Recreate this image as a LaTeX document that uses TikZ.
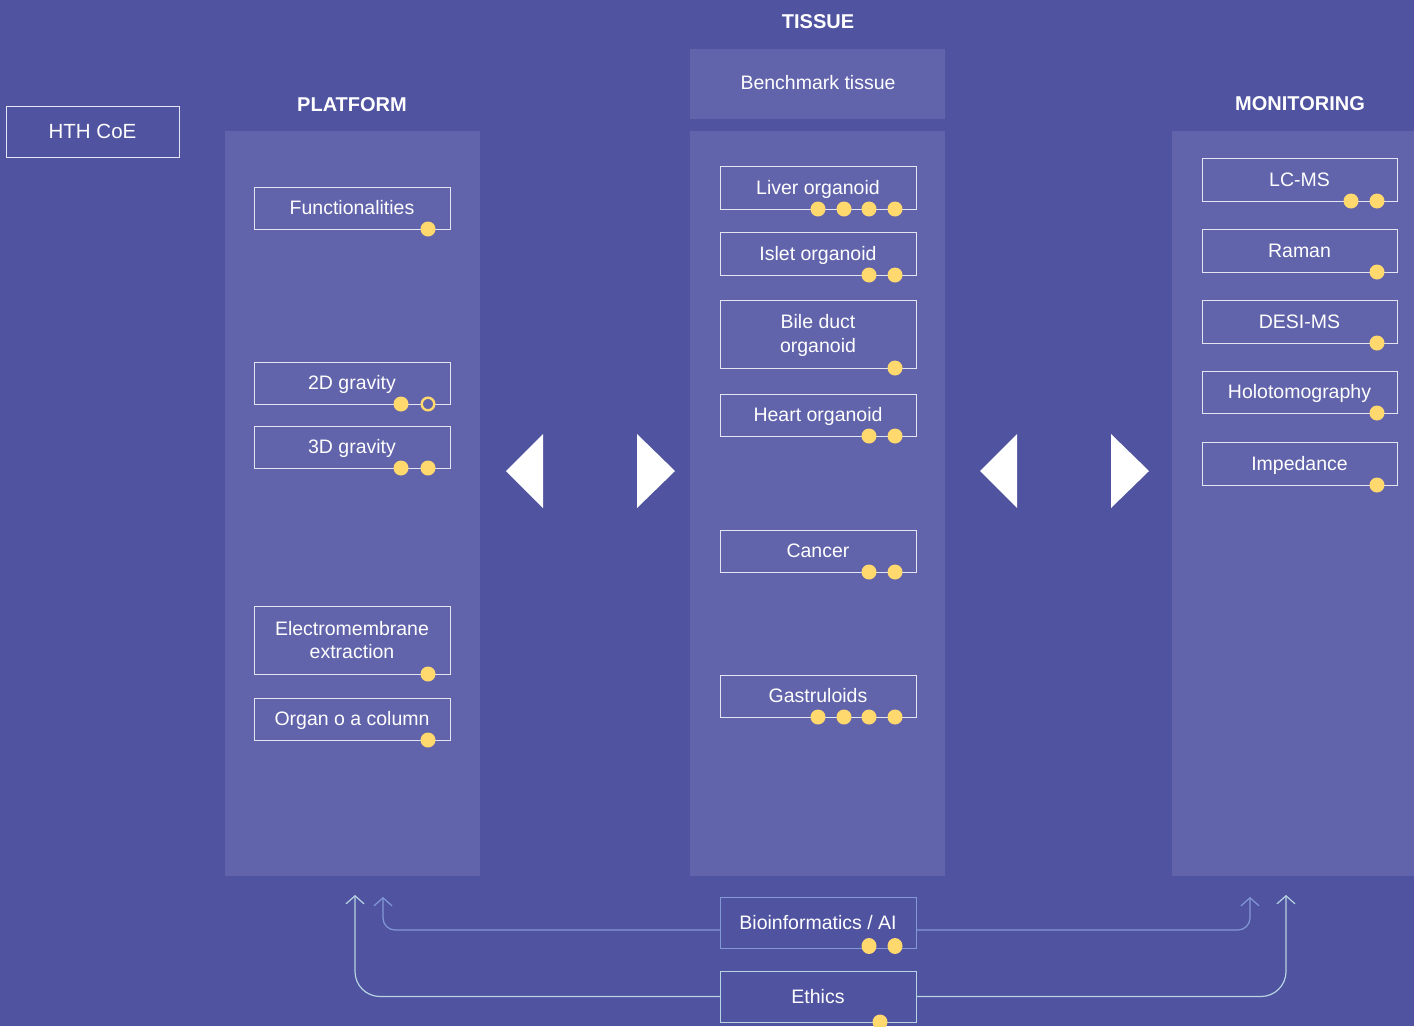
\documentclass[tikz,border=0pt]{standalone}
\usepackage{fontspec}
\setmainfont{Liberation Sans}
\usetikzlibrary{arrows.meta}
\definecolor{bgc}{HTML}{5053A0}
\definecolor{panelc}{HTML}{6163AB}
\definecolor{dotc}{HTML}{FFD86E}
\definecolor{boxline}{HTML}{E4E4F2}
\definecolor{bioc}{HTML}{8299D6}
\definecolor{ethc}{HTML}{B6D4E2}
\tikzset{
  panel/.style={fill=panelc, draw=none, inner sep=0pt, outer sep=0pt},
  itembox/.style={draw=boxline, line width=1pt, inner sep=0pt, outer sep=0pt,
    minimum width=196pt, minimum height=42pt, text=white, align=center,
    text height=14pt, text depth=1pt,
    font=\fontsize{19.5}{24}\selectfont},
  header/.style={text=white, font=\fontsize{20}{24}\selectfont\bfseries},
  filldot/.style={fill=dotc},
  hollowdot/.style={fill=panelc, draw=dotc, line width=2.4pt},
  tri/.style={fill=white},
  bioline/.style={draw=bioc, line width=1.2pt, rounded corners=12pt,
    -{Straight Barb[length=8pt,width=18pt,line width=1.2pt]}},
  ethline/.style={draw=ethc, line width=1.2pt, rounded corners=25pt,
    -{Straight Barb[length=8pt,width=18pt,line width=1.2pt]}},
}
\newcommand{\ydots}[2]{\foreach \o in {#2} \fill[filldot] ([xshift=-\o pt]#1.south east) circle (7.5pt);}
\begin{document}
\begin{tikzpicture}[x=1pt,y=-1pt]
\fill[bgc] (0,0) rectangle (1414,1026);
\useasboundingbox (0,0) rectangle (1414,1026);

% panels
\node[panel, minimum width=255pt, minimum height=745pt] (platP) at (352.5,503.5) {};
\node[panel, minimum width=255pt, minimum height=70pt] (bench) at (817.5,84) {};
\node[panel, minimum width=255pt, minimum height=745pt] (tisP) at (817.5,503.5) {};
\node[panel, minimum width=242pt, minimum height=745pt] (monP) at (1293,503.5) {};

\node[text=white, font=\fontsize{19.5}{23.5}\selectfont, text height=14pt, text depth=1pt] (benchT) at (818,82.5) {Benchmark tissue};

% headers
\node[header] (hTissue) at (818,22) {TISSUE};
\node[header] (hPlat) at (352,105) {PLATFORM};
\node[header] (hMon) at (1300,104) {MONITORING};

\node[itembox, minimum width=173pt, minimum height=51pt, font=\fontsize{20.5}{24}\selectfont] (hth) at (92.5,131.5) {HTH CoE};

% platform boxes
\node[itembox] (func) at (352,208) {Functionalities};
\node[itembox] (g2d) at (352,383) {2D gravity};
\node[itembox] (g3d) at (352,447) {3D gravity};
\node[itembox, minimum height=68pt, font=\fontsize{19.5}{23}\selectfont, text height=37pt, text depth=1pt] (eme) at (352,640) {Electromembrane\\extraction};
\node[itembox] (ooc) at (352,719) {Organ o a column};

% tissue boxes
\node[itembox, minimum height=43pt] (liver) at (818,187.5) {Liver organoid};
\node[itembox, minimum height=43pt] (islet) at (818,253.5) {Islet organoid};
\node[itembox, minimum height=68pt, text height=38pt, text depth=1pt] (bile) at (818,334) {Bile duct\\organoid};
\node[itembox] (heart) at (818,415) {Heart organoid};
\node[itembox] (cancer) at (818,551) {Cancer};
\node[itembox] (gastro) at (818,696) {Gastruloids};

% monitoring boxes
\node[itembox, minimum width=195pt, minimum height=43pt] (lcms) at (1299.5,179.5) {LC-MS};
\node[itembox, minimum width=195pt, minimum height=43pt] (raman) at (1299.5,250.5) {Raman};
\node[itembox, minimum width=195pt, minimum height=43pt] (desi) at (1299.5,321.5) {DESI-MS};
\node[itembox, minimum width=195pt, minimum height=42pt] (holo) at (1299.5,392) {Holotomography};
\node[itembox, minimum width=195pt, minimum height=43pt] (imp) at (1299.5,463.5) {Impedance};

% bottom boxes
\node[itembox, draw=bioc, minimum height=51pt] (bio) at (818,922.5) {Bioinformatics / AI};
\node[itembox, draw=ethc, minimum height=51pt] (eth) at (818,996.5) {Ethics};

% dots
\ydots{func}{22}
\fill[filldot] ([xshift=-49pt]g2d.south east) circle (7.5pt);
\draw[hollowdot] ([xshift=-22pt]g2d.south east) circle (6.3pt);
\ydots{g3d}{22,49}
\ydots{eme}{22}
\ydots{ooc}{22}
\ydots{liver}{21,47,72,98}
\ydots{islet}{21,47}
\ydots{bile}{21}
\ydots{heart}{21,47}
\ydots{cancer}{21,47}
\ydots{gastro}{21,47,72,98}
\ydots{lcms}{20,46}
\ydots{raman}{20}
\ydots{desi}{20}
\ydots{holo}{20}
\ydots{imp}{20}
\foreach \o in {21,47} \fill[filldot] ([xshift=-\o pt, yshift=2pt]bio.south east) ellipse (7.5pt and 8pt);
\ydots{eth}{36}

% triangles
\fill[tri] (506,471) -- (543,434) -- (543,508) -- cycle;
\fill[tri] (675,471) -- (637,434) -- (637,508) -- cycle;
\fill[tri] (980,471) -- (1017,434) -- (1017,508) -- cycle;
\fill[tri] (1149,471) -- (1111,434) -- (1111,508) -- cycle;

% connectors
\coordinate (bioL) at (383,897);
\coordinate (bioR) at (1250,897);
\coordinate (ethL) at (355,895);
\coordinate (ethR) at (1286,895);
\draw[bioline] ([yshift=-7.5pt]bio.west) -| (bioL);
\draw[bioline] ([yshift=-7.5pt]bio.east) -| (bioR);
\draw[ethline] (eth.west) -| (ethL);
\draw[ethline] (eth.east) -| (ethR);
\end{tikzpicture}
\end{document}
